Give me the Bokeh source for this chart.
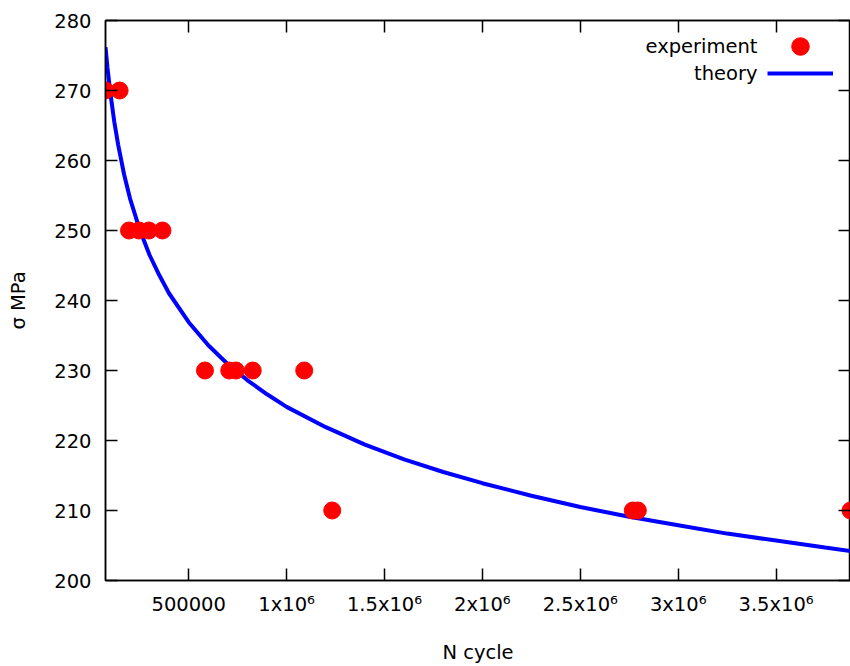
from bokeh.plotting import figure
from bokeh.models import Range1d, FixedTicker, LinearAxis, Legend, LegendItem, Label
from bokeh.embed import file_html
from bokeh.resources import INLINE

# ---- data ----
exp_n = [75000, 147000, 195000, 246000, 297000, 366000,
         583000, 707000, 741000, 827000, 1090000,
         1233000, 2768000, 2794000, 3880000]
exp_sigma = [270, 270, 250, 250, 250, 250,
             230, 230, 230, 230, 230,
             210, 210, 210, 210]

theory_n = [75000, 85000, 100000, 120000, 140000, 170000, 200000, 250000,
            300000, 350000, 400000, 500000, 600000, 700000, 800000, 900000,
            1000000, 1200000, 1400000, 1600000, 1800000, 2000000, 2250000,
            2500000, 2750000, 3000000, 3250000, 3500000, 3750000, 3880000]
theory_sigma = [276.2, 273.3, 269.6, 265.5, 262.2, 258.0, 254.6, 250.1,
                246.5, 243.6, 241.0, 236.9, 233.6, 230.9, 228.6, 226.6,
                224.8, 221.9, 219.4, 217.3, 215.5, 213.9, 212.1,
                210.5, 209.1, 207.9, 206.7, 205.7, 204.7, 204.2]

x_ticks = [500000, 1000000, 1500000, 2000000, 2500000, 3000000, 3500000]
x_tick_labels = ["500000", "1x10\u2076", "1.5x10\u2076", "2x10\u2076",
                 "2.5x10\u2076", "3x10\u2076", "3.5x10\u2076"]
y_ticks = [200, 210, 220, 230, 240, 250, 260, 270, 280]

x_label = "N cycle"
y_label = "\u03c3 MPa"
legend_labels = ["experiment", "theory"]

FONT = "DejaVu Sans"
FS = "19.5px"

p = figure(width=850, height=666, output_backend="svg", toolbar_location=None,
           x_range=Range1d(75000, 3880000), y_range=Range1d(200, 280),
           min_border_left=105, min_border_top=20, min_border_right=0,
           min_border_bottom=86)

p.background_fill_color = "white"
p.border_fill_color = "white"
p.outline_line_color = "black"
p.outline_line_width = 1.5
p.xgrid.grid_line_color = None
p.ygrid.grid_line_color = None

r_th = p.line(theory_n, theory_sigma, line_width=4, color="#0000ff")
r_exp = p.scatter(exp_n, exp_sigma, size=17, marker="circle",
                  fill_color="#ff0000", line_color="#ff0000")

def style_axis(ax, ticks, show_labels=True):
    ax.ticker = FixedTicker(ticks=ticks)
    ax.axis_line_color = "black"
    ax.axis_line_width = 1.5
    ax.major_tick_line_color = "black"
    ax.major_tick_line_width = 1.5
    ax.major_tick_in = 12
    ax.major_tick_out = 0
    ax.minor_tick_line_color = None
    ax.major_label_text_font = FONT
    if show_labels:
        ax.major_label_text_color = "black"
        ax.major_label_text_font_size = FS
    else:
        ax.major_label_text_color = None
        ax.major_label_text_font_size = "1px"
        ax.major_label_standoff = 0
        ax.axis_label_standoff = 0

style_axis(p.xaxis[0], x_ticks)
style_axis(p.yaxis[0], y_ticks)
p.xaxis[0].major_label_overrides = {t: l for t, l in zip(x_ticks, x_tick_labels)}
p.xaxis[0].major_label_standoff = 12
p.yaxis[0].major_label_standoff = 14

p.xaxis[0].axis_label = x_label
p.yaxis[0].axis_label = y_label
for ax in (p.xaxis[0], p.yaxis[0]):
    ax.axis_label_text_font = FONT
    ax.axis_label_text_font_size = FS
    ax.axis_label_text_font_style = "normal"
    ax.axis_label_text_color = "black"
p.xaxis[0].axis_label_standoff = 22
p.yaxis[0].axis_label_standoff = 21

top_ax = LinearAxis()
style_axis(top_ax, x_ticks, show_labels=False)
p.add_layout(top_ax, "above")
right_ax = LinearAxis()
style_axis(right_ax, y_ticks, show_labels=False)
p.add_layout(right_ax, "right")

# legend: glyph samples at right, text to their left
leg_common = dict(glyph_width=66, label_width=0, label_height=0, label_standoff=0,
                  label_text_font_size="1px", label_text_color=None,
                  padding=0, spacing=0, margin=0,
                  border_line_color=None, background_fill_alpha=0)
leg1 = Legend(items=[LegendItem(label="", renderers=[r_exp])],
              location=(662, 512), glyph_height=44, **leg_common)
leg2 = Legend(items=[LegendItem(label="", renderers=[r_th])],
              location=(662, 497), glyph_height=20, **leg_common)
p.add_layout(leg1)
p.add_layout(leg2)

for txt, y in zip(legend_labels, [534, 507]):
    p.add_layout(Label(x=652, y=y, x_units="screen", y_units="screen", text=txt,
                       text_align="right", text_baseline="middle",
                       text_font=FONT, text_font_size=FS, text_color="black"))

open("out.html", "w").write(file_html(p, INLINE))
